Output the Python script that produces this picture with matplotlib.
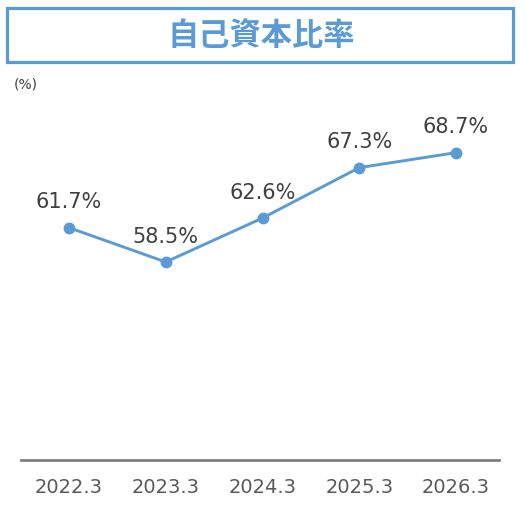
import matplotlib
matplotlib.use("Agg")
import matplotlib.pyplot as plt
from matplotlib.patches import Rectangle

plt.rcParams['font.family'] = ['DejaVu Sans', 'Noto Sans CJK JP']

categories = ["2022.3", "2023.3", "2024.3", "2025.3", "2026.3"]
values = [61.7, 58.5, 62.6, 67.3, 68.7]
title = "自己資本比率"
unit = "(%)"

W, H = 527, 513
fig = plt.figure(figsize=(W/100, H/100), dpi=100)

blue = "#5B9BD5"

# title box
fig.patches.append(Rectangle((6.5/W, 1 - 61.5/H), 506/W, 54/H, transform=fig.transFigure,
                             fill=False, edgecolor=blue, linewidth=2.3))
fig.text(261/W, 1 - 36/H, title, ha="center", va="center", fontsize=22.5,
         fontweight="bold", color=blue, family=['Noto Sans CJK JP'])
fig.text(14/W, 1 - 84/H, unit, ha="left", va="center", fontsize=10, color="#404040")

ax = fig.add_axes([21/W, 1 - 460.3/H, 478/W, (460.3 - 31.5)/H])
ax.set_ylim(40, 80)
x = list(range(len(categories)))
ax.set_xlim(-0.496, 4.444)
ax.plot(x, values, color=blue, linewidth=2.1, marker="o", markersize=7.5, zorder=3)
for xi, v in zip(x, values):
    ax.annotate(f"{v:.1f}%", (xi, v), xytext=(0, 14), textcoords="offset points",
                ha="center", va="baseline", fontsize=15, color="#404040")

for s in ["top", "right", "left"]:
    ax.spines[s].set_visible(False)
ax.spines["bottom"].set_color("#808080")
ax.spines["bottom"].set_linewidth(2)
ax.set_yticks([])
ax.set_xticks(x)
ax.set_xticklabels(categories, fontsize=14, color="#595959")
ax.tick_params(axis="x", length=0, pad=13)
ax.patch.set_alpha(0)

fig.savefig("out.png", dpi=100, facecolor="white")
